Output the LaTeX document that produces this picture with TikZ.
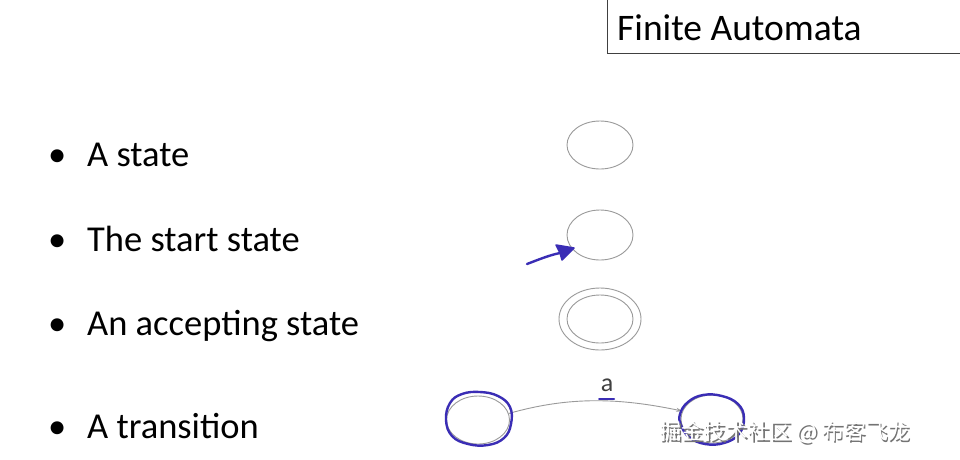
\documentclass[tikz,border=0pt]{standalone}
\usepackage{fontspec}
\setmainfont{Carlito}
\newfontfamily\cjkfont{Noto Sans CJK SC}
\usetikzlibrary{shapes.geometric,arrows.meta}
\definecolor{stategray}{HTML}{9A9A9A}
\definecolor{pen}{HTML}{3A2DB5}
\tikzset{
  statebox/.style={draw=stategray, line width=0.9pt, ellipse, inner sep=0pt, minimum width=66pt, minimum height=48pt},
  bullettext/.style={anchor=base west, inner sep=0pt, font=\fontsize{36.5}{40}\selectfont},
  bulletdot/.style={anchor=base west, inner sep=0pt, font=\fontsize{36.5}{40}\selectfont},
  penline/.style={draw=pen, line width=2.4pt, line cap=round, line join=round},
}
\begin{document}
\begin{tikzpicture}[x=1pt,y=-1pt]
\useasboundingbox (0,0) rectangle (960,459);
\fill[white] (0,0) rectangle (960,459);
% title box
\draw[draw=black!75, line width=1pt] (607,-2) rectangle (962,53);
\node[anchor=base west, inner sep=0pt, font=\fontsize{37.5}{40}\selectfont] (title) at (617,40) {Finite Automata};
% bullets
\node[bulletdot] (b1) at (48,166) {•};
\node[bullettext] (t1) at (87,166) {A state};
\node[bulletdot] (b2) at (48,251) {•};
\node[bullettext] (t2) at (87,251) {The start state};
\node[bulletdot] (b3) at (48,335) {•};
\node[bullettext] (t3) at (87,335) {An accepting state};
\node[bulletdot] (b4) at (48,438) {•};
\node[bullettext] (t4) at (87,438) {A transition};
% states
\node[statebox] (s1) at (600,145) {};
\node[statebox, minimum height=50pt] (s2) at (600,235) {};
\node[statebox, minimum width=82pt, minimum height=62pt] (s3o) at (600,319) {};
\node[statebox] (s3i) at (600,319) {};
\node[statebox, minimum width=63pt, minimum height=48pt] (q1) at (478,420) {};
\node[statebox, minimum width=62pt, minimum height=48pt] (q2) at (712,419) {};
% transition
\draw[stategray, line width=0.9pt, -{Stealth[length=6pt,width=4pt]}] (q1.12) .. controls (570,396) and (620,398) .. (q2.165);
\node[font=\fontsize{26}{28}\selectfont, text=black!75, inner sep=1pt] (lab) at (607,385) {a};
% pen strokes
\coordinate (u1) at (599,399);
\coordinate (u2) at (614,399);
\draw[penline, line width=2pt] (u1) -- (u2);
\coordinate (sa) at (527,264);
\coordinate (tip) at (574,248);
\coordinate (hb) at (560,253);
\coordinate (h1) at (562,260);
\coordinate (h2) at (556,245);
\draw[penline] (sa) .. controls (540,259) and (550,255) .. (hb);
\fill[pen, draw=pen, line width=1.5pt, line join=round] (tip) -- (h1) -- (hb) -- (h2) -- cycle;
\draw[penline] plot[smooth cycle, tension=0.7] coordinates {(446,420) (450,403) (462,394) (480,392) (498,396) (510,407) (511,424) (504,438) (488,445) (468,444) (452,436)};
\draw[penline] plot[smooth cycle, tension=0.7] coordinates {(680,414) (688,402) (703,395) (722,396) (738,404) (744,418) (739,434) (724,443) (705,444) (689,437) (681,425)};
% watermark
\node[anchor=base west, inner sep=0pt, font=\cjkfont\fontsize{22}{24}\selectfont, text=black!55] (wms) at (661,441) {掘金技术社区 @ 布客飞龙};
\node[anchor=base west, inner sep=0pt, font=\cjkfont\fontsize{22}{24}\selectfont, text=white] (wm) at (659.5,439.5) {掘金技术社区 @ 布客飞龙};
\end{tikzpicture}
\end{document}
